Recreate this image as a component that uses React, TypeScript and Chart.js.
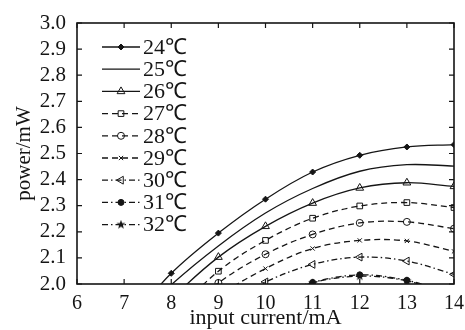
import React, { useEffect, useRef } from "react";
import { Chart, registerables } from "chart.js";
import { drawPoint } from "chart.js/helpers";

Chart.register(...registerables);

const currents = [7, 8, 9, 10, 11, 12, 13, 14];
const labels = ["24℃", "25℃", "26℃", "27℃", "28℃", "29℃", "30℃", "31℃", "32℃"];
const t24 = [1.835, 2.041, 2.195, 2.325, 2.429, 2.493, 2.525, 2.534];
const t25 = [1.82, 1.997, 2.146, 2.272, 2.366, 2.432, 2.457, 2.452];
const t26 = [1.75, 1.942, 2.103, 2.221, 2.31, 2.368, 2.388, 2.374];
const t27 = [1.7, 1.875, 2.049, 2.167, 2.252, 2.299, 2.312, 2.293];
const t28 = [1.68, 1.85, 2.004, 2.114, 2.19, 2.234, 2.238, 2.212];
const t29 = [1.6, 1.78, 1.95, 2.059, 2.136, 2.167, 2.165, 2.125];
const t30 = [1.55, 1.72, 1.91, 2.008, 2.075, 2.103, 2.088, 2.037];
const t31 = [1.5, 1.66, 1.82, 1.94, 2.006, 2.035, 2.014, 1.96];
const t32 = [1.48, 1.64, 1.8, 1.93, 2.004, 2.03, 2.012, 1.95];
const yTicks = [2.0, 2.1, 2.2, 2.3, 2.4, 2.5, 2.6, 2.7, 2.8, 2.9, 3.0];
const xTicks = [6, 7, 8, 9, 10, 11, 12, 13, 14];

const FONT = "'Liberation Serif', 'Times New Roman', serif";
const INK = "#151515";

function makeStar(): HTMLCanvasElement {
  const c = document.createElement("canvas");
  c.width = 10;
  c.height = 10;
  const g = c.getContext("2d")!;
  g.fillStyle = INK;
  g.beginPath();
  for (let i = 0; i < 10; i++) {
    const r = i % 2 === 0 ? 4.8 : 2;
    const a = -Math.PI / 2 + (i * Math.PI) / 5;
    const x = 5 + r * Math.cos(a);
    const y = 5 + r * Math.sin(a);
    if (i === 0) g.moveTo(x, y);
    else g.lineTo(x, y);
  }
  g.closePath();
  g.fill();
  return c;
}

export default function App() {
  const ref = useRef<HTMLCanvasElement | null>(null);
  useEffect(() => {
    if (!ref.current) return;
    const star = makeStar();
    const series = [t24, t25, t26, t27, t28, t29, t30, t31, t32];
    const solid: number[] = [];
    const dashed = [6, 4];
    const dashDot = [6, 3, 1.5, 3];
    const styles: any[] = [
      { dash: solid, ps: "rectRot", r: 3, fill: true, rot: 0 },
      { dash: solid, ps: "circle", r: 0, fill: false, rot: 0 },
      { dash: solid, ps: "triangle", r: 4.5, fill: false, rot: 0 },
      { dash: dashed, ps: "rect", r: 4, fill: false, rot: 0 },
      { dash: dashed, ps: "circle", r: 3.5, fill: false, rot: 0 },
      { dash: dashed, ps: "crossRot", r: 3, fill: false, rot: 0 },
      { dash: dashDot, ps: "triangle", r: 4.5, fill: false, rot: -90 },
      { dash: dashDot, ps: "circle", r: 3, fill: true, rot: 0 },
      { dash: dashDot, ps: star, r: 4, fill: true, rot: 0 },
    ];
    const datasets = series.map((s, i) => ({
      label: labels[i],
      data: currents.map((c, j) => ({ x: c, y: s[j] })),
      borderColor: INK,
      borderWidth: 1.3,
      borderDash: styles[i].dash,
      pointStyle: styles[i].ps,
      pointRadius: styles[i].r,
      pointRotation: styles[i].rot,
      pointBorderColor: INK,
      pointBorderWidth: 1,
      pointBackgroundColor: styles[i].fill ? INK : "rgba(0,0,0,0)",
      tension: 0.35,
      fill: false,
    }));

    const framePlugin = {
      id: "frame",
      afterDatasetsDraw(chart: any) {
        const { ctx, chartArea: a, scales } = chart;
        ctx.save();
        ctx.strokeStyle = INK;
        ctx.lineWidth = 1.6;
        ctx.setLineDash([]);
        ctx.strokeRect(a.left, a.top, a.right - a.left, a.bottom - a.top);
        ctx.lineWidth = 1.2;
        const tl = 5;
        xTicks.forEach((v) => {
          const x = scales.x.getPixelForValue(v);
          ctx.beginPath();
          ctx.moveTo(x, a.bottom);
          ctx.lineTo(x, a.bottom - tl);
          ctx.moveTo(x, a.top);
          ctx.lineTo(x, a.top + tl);
          ctx.stroke();
        });
        yTicks.forEach((v) => {
          const y = scales.y.getPixelForValue(v);
          ctx.beginPath();
          ctx.moveTo(a.left, y);
          ctx.lineTo(a.left + tl, y);
          ctx.moveTo(a.right, y);
          ctx.lineTo(a.right - tl, y);
          ctx.stroke();
        });
        // legend
        const x0 = a.left + 25;
        const x1 = a.left + 63;
        const xm = (x0 + x1) / 2;
        chart.data.datasets.forEach((ds: any, i: number) => {
          const y = a.top + 24 + i * 22.2;
          ctx.strokeStyle = INK;
          ctx.lineWidth = 1.3;
          ctx.setLineDash(ds.borderDash || []);
          ctx.beginPath();
          ctx.moveTo(x0, y);
          ctx.lineTo(x1, y);
          ctx.stroke();
          ctx.setLineDash([]);
          if (ds.pointRadius > 0) {
            ctx.fillStyle = ds.pointBackgroundColor;
            ctx.strokeStyle = ds.pointBorderColor;
            ctx.lineWidth = 1;
            drawPoint(ctx, { pointStyle: ds.pointStyle, rotation: ds.pointRotation, radius: ds.pointRadius, borderWidth: 1 }, xm, y);
          }
          ctx.fillStyle = INK;
          ctx.font = `22px ${FONT}`;
          ctx.textBaseline = "middle";
          ctx.textAlign = "left";
          ctx.fillText(ds.label, x1 + 3, y + 1);
        });
        ctx.restore();
      },
    };

    const chart = new Chart(ref.current, {
      type: "line",
      data: { datasets },
      options: {
        animation: false,
        responsive: false,
        maintainAspectRatio: false,
        layout: { padding: { left: 0, right: 11, top: 23, bottom: 0 } },
        plugins: { legend: { display: false }, tooltip: { enabled: false } },
        scales: {
          x: {
            type: "linear",
            min: 6,
            max: 14,
            grid: { display: false },
            border: { display: false },
            afterFit: (s: any) => {
              s.height = 46;
            },
            afterBuildTicks: (s: any) => {
              s.ticks = xTicks.map((v) => ({ value: v }));
            },
            ticks: {
              color: INK,
              font: { family: FONT, size: 20 },
              padding: 0,
              maxRotation: 0,
              autoSkip: false,
            },
            title: {
              display: true,
              text: "input current/mA",
              color: INK,
              font: { family: FONT, size: 22 },
              padding: { top: 0, bottom: -1 },
            },
          },
          y: {
            type: "linear",
            min: 2,
            max: 3,
            grid: { display: false },
            border: { display: false },
            afterFit: (s: any) => {
              s.width = 77;
            },
            afterBuildTicks: (s: any) => {
              s.ticks = yTicks.map((v) => ({ value: v }));
            },
            ticks: {
              color: INK,
              font: { family: FONT, size: 21 },
              padding: 3,
              autoSkip: false,
              callback: (v: any) => Number(v).toFixed(1),
            },
            title: {
              display: true,
              text: "power/mW",
              color: INK,
              font: { family: FONT, size: 21 },
              padding: { top: 12, bottom: 0 },
            },
          },
        },
      },
      plugins: [framePlugin],
    });
    return () => chart.destroy();
  }, []);
  return (
    <div style={{ position: "fixed", left: 0, top: 0, width: 465, height: 330, background: "#fff" }}>
      <canvas ref={ref} width={465} height={330} style={{ width: 465, height: 330, display: "block" }} />
    </div>
  );
}
